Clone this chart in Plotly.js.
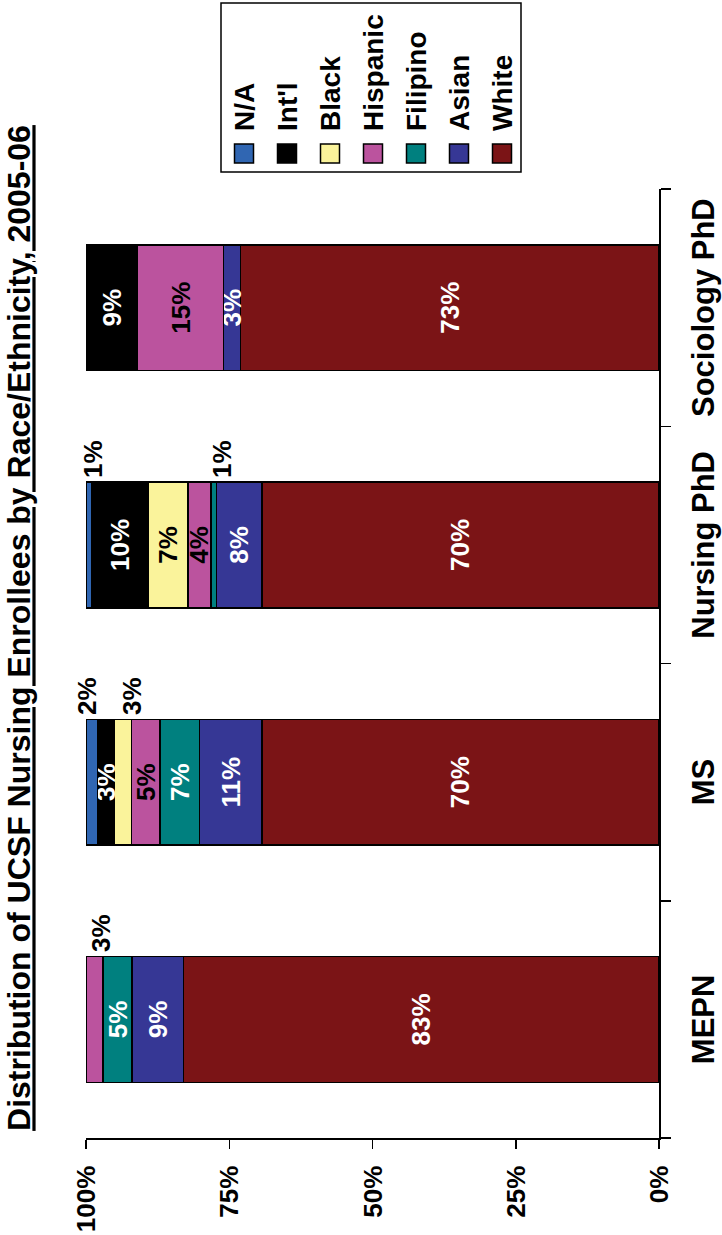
<!DOCTYPE html>
<html>
<head>
<meta charset="utf-8">
<script src="https://cdn.plot.ly/plotly-3.0.1.min.js"></script>
<style>
html,body{margin:0;padding:0;background:#fff;overflow:hidden;width:722px;height:1235px;}
#chart{position:absolute;left:0;top:0;width:1235px;height:722px;transform-origin:0 0;transform:translate(0px,1235px) rotate(-90deg);}
</style>
</head>
<body>
<div id="chart"></div>
<script>
// ---- data ----
const categories = ['MEPN', 'MS', 'Nursing PhD', 'Sociology PhD'];
const seriesNames = ['White', 'Asian', 'Filipino', 'Hispanic', 'Black', "Int'l", 'N/A'];
const white    = [83, 70, 70, 73];
const asian    = [9, 11, 8, 3];
const filipino = [5, 7, 1, 0];
const hispanic = [3, 5, 4, 15];
const black    = [0, 3, 7, 0];
const intl     = [0, 3, 10, 9];
const na       = [0, 2, 1, 0];
const valueTicks = [0, 25, 50, 75, 100];
const valueTickLabels = ['0%', '25%', '50%', '75%', '100%'];
const titleText = 'Distribution of UCSF Nursing Enrollees by Race/Ethnicity, 2005-06';

// ---- styling (not data) ----
const seriesValues = [white, asian, filipino, hispanic, black, intl, na];
const seriesColors = ['#7B1416', '#363795', '#00807F', '#BB539E', '#FAF39B', '#000000', '#3066B2'];
const labelColors  = ['#ffffff', '#ffffff', '#ffffff', '#000000', '#000000', '#ffffff', '#000000'];
// labels drawn beside the bar: [category index, series index, yshift px]
const outsideLabels = [[0, 3, -6], [1, 6, 5], [1, 4, -9], [2, 6, -4], [2, 2, -8]];
const FONT = 'Liberation Sans, Arial, Helvetica, sans-serif';

const W = 1235, H = 722;
const M = {l: 97, r: 189, t: 86, b: 63};
const PW = W - M.l - M.r, PH = H - M.t - M.b;
const px2x = p => (p - M.l) / PW;
const px2y = p => 1 - (p - M.t) / PH;

const isOutside = (c, s) => outsideLabels.some(o => o[0] === c && o[1] === s);

const traces = seriesNames.map((name, s) => ({
  type: 'bar',
  name: name,
  x: categories,
  y: seriesValues[s],
  marker: {color: seriesColors[s], line: {color: '#000', width: 1.5}},
  text: seriesValues[s].map((v, c) => (v > 0 && !isOutside(c, s)) ? v + '%' : ''),
  textposition: 'inside',
  insidetextanchor: 'middle',
  textangle: 0,
  constraintext: 'none',
  cliponaxis: false,
  textfont: {family: FONT, size: 26, color: labelColors[s], weight: 'bold'},
  hoverinfo: 'skip',
  showlegend: false
}));

// totals and midpoints for the outside labels (through the value axis)
const totals = categories.map((_, c) => seriesValues.reduce((a, arr) => a + arr[c], 0));
const annotations = outsideLabels.map(([c, s, dy]) => {
  let before = 0;
  for (let k = 0; k < s; k++) before += seriesValues[k][c];
  const mid = (before + seriesValues[s][c] / 2) / totals[c] * 100;
  return {
    x: categories[c], y: mid, xref: 'x', yref: 'y',
    text: seriesValues[s][c] + '%', showarrow: false,
    xanchor: 'left', yanchor: 'middle', xshift: 65, yshift: dy,
    font: {family: FONT, size: 26, color: '#000', weight: 'bold'}
  };
});

// manual legend (top to bottom: reverse stack order)
const shapes = [];
const legBox = {x0: 1063, x1: 1232, y0: 221, y1: 521};
shapes.push({type: 'rect', xref: 'paper', yref: 'paper',
  x0: px2x(legBox.x0), x1: px2x(legBox.x1), y0: px2y(legBox.y1), y1: px2y(legBox.y0),
  line: {color: '#000', width: 1.5}, fillcolor: 'rgba(0,0,0,0)'});
const legOrder = seriesNames.map((_, i) => i).reverse();
legOrder.forEach((s, i) => {
  const cy = 244 + i * 43;
  shapes.push({type: 'rect', xref: 'paper', yref: 'paper',
    x0: px2x(1072), x1: px2x(1091), y0: px2y(cy + 9.5), y1: px2y(cy - 9.5),
    line: {color: '#000', width: 1.5}, fillcolor: seriesColors[s]});
  annotations.push({xref: 'paper', yref: 'paper', x: px2x(1102), y: px2y(cy),
    xanchor: 'left', yanchor: 'middle', showarrow: false, text: seriesNames[s],
    font: {family: FONT, size: 28, color: '#000', weight: 'bold'}});
});

const layout = {
  width: W, height: H,
  margin: M,
  paper_bgcolor: '#fff', plot_bgcolor: '#fff',
  barmode: 'stack', barnorm: 'percent', bargap: 0.47,
  showlegend: false,
  title: {
    text: '<u>' + titleText + '</u>',
    font: {family: FONT, size: 32, color: '#000', weight: 'bold'},
    xref: 'container', yref: 'container', x: 607 / W, xanchor: 'center',
    y: 1 - 8 / H, yanchor: 'top'
  },
  xaxis: {
    type: 'category', categoryorder: 'array', categoryarray: categories,
    tickson: 'boundaries', ticks: 'outside', ticklen: 10, tickwidth: 1.5, tickcolor: '#000',
    showline: true, linecolor: '#000', linewidth: 1.5, showgrid: false, zeroline: false,
    tickfont: {family: FONT, size: 31, color: '#000', weight: 'bold'},
    ticklabelstandoff: 16, fixedrange: true
  },
  yaxis: {
    range: [0, 100], tickmode: 'array', tickvals: valueTicks, ticktext: valueTickLabels,
    ticks: 'outside', ticklen: 9, tickwidth: 1.5, tickcolor: '#000',
    showline: true, linecolor: '#000', linewidth: 1.5, showgrid: false, zeroline: false,
    tickfont: {family: FONT, size: 26, color: '#000', weight: 'bold'},
    ticklabelstandoff: 12, fixedrange: true
  },
  shapes: shapes,
  annotations: annotations
};

Plotly.newPlot('chart', traces, layout, {displayModeBar: false, staticPlot: true});
</script>
</body>
</html>
